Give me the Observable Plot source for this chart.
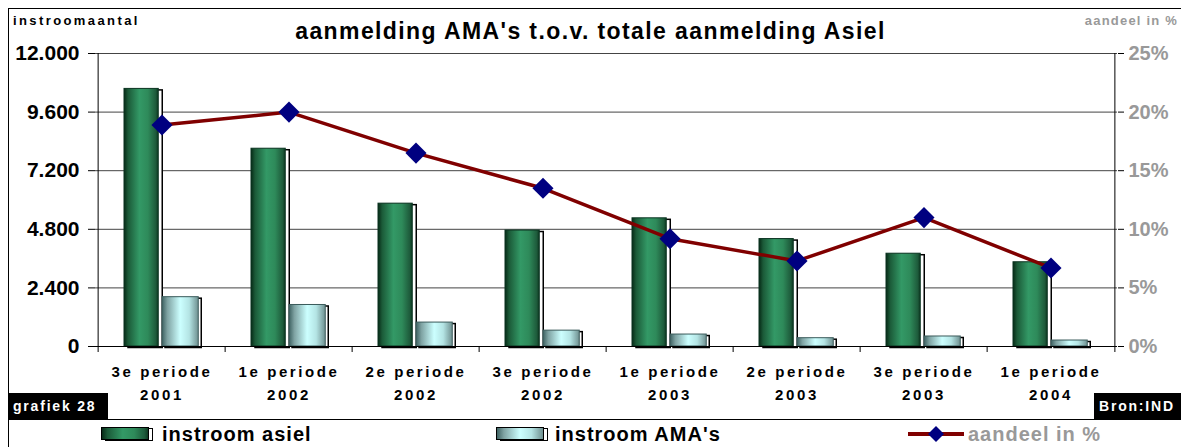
<!DOCTYPE html>
<html>
<head>
<meta charset="utf-8">
<script src="https://cdn.jsdelivr.net/npm/d3@7"></script>
<script src="https://cdn.jsdelivr.net/npm/@observablehq/plot@0.6"></script>
<style>
  html, body { margin: 0; padding: 0; background: #fff; }
  body { font-family: "Liberation Sans", Arial, sans-serif; }
  #wrap { position: relative; width: 1181px; height: 447px; overflow: hidden; background: #fff; }
  #wrap svg.plot { position: absolute; left: 0; top: 0; }
  .abs { position: absolute; white-space: nowrap; }
  #title { left: 0; width: 1181px; top: 18px; text-align: center; font-weight: bold; font-size: 23px; letter-spacing: 1.4px; }
  #ylab { left: 13px; top: 13px; font-weight: bold; font-size: 13px; letter-spacing: 2.4px; }
  #ylab2 { right: 3px; top: 13px; font-weight: bold; font-size: 13px; letter-spacing: 1.2px; color: #999; }
  .blk { background: #000; color: #fff; font-weight: bold; font-size: 14px; letter-spacing: 1.8px; height: 26px; line-height: 26px; }
  #graf { left: 8px; top: 393px; width: 100px; padding-left: 5px; box-sizing: border-box; }
  #bron { left: 1094px; top: 393px; width: 87px; padding-left: 5px; box-sizing: border-box; }
  #topline { left: 8px; top: 8px; width: 1173px; height: 0; border-top: 1px solid #000; }
  #leftline { left: 8px; top: 8px; width: 0; height: 439px; border-left: 1px solid #000; }
  #midline { left: 8px; top: 419px; width: 1173px; height: 0; border-top: 1px solid #000; }
  .sw { position: absolute; height: 13px; width: 48px; top: 427px; box-sizing: border-box; border: 1px solid #000; }
  .swo { position: absolute; height: 13px; width: 48px; top: 428px; box-sizing: border-box; border: 1.5px solid #000; background: #fff; }
  .lg { position: absolute; top: 421px; font-weight: bold; font-size: 20px; letter-spacing: 1px; line-height: 26px; }
  g[aria-label="x-axis tick label"] text { letter-spacing: 2.6px; }
</style>
</head>
<body>
<svg width="0" height="0" style="position:absolute">
  <defs>
    <linearGradient id="gGreen" x1="0" y1="0" x2="1" y2="0">
      <stop offset="0" stop-color="#062a16"/>
      <stop offset="0.12" stop-color="#1b5a38"/>
      <stop offset="0.45" stop-color="#339966"/>
      <stop offset="0.7" stop-color="#2e8a5a"/>
      <stop offset="0.92" stop-color="#1e5c3c"/>
      <stop offset="1" stop-color="#0e3a22"/>
    </linearGradient>
    <linearGradient id="gLight" x1="0" y1="0" x2="1" y2="0">
      <stop offset="0" stop-color="#3e6262"/>
      <stop offset="0.15" stop-color="#7fa3a3"/>
      <stop offset="0.5" stop-color="#ccffff"/>
      <stop offset="0.75" stop-color="#b4e4e4"/>
      <stop offset="1" stop-color="#6f9090"/>
    </linearGradient>
  </defs>
</svg>
<div id="wrap">
  <div class="abs" id="topline"></div>
  <div class="abs" id="leftline"></div>
  <div class="abs" id="midline"></div>
  <div class="abs" id="title">aanmelding AMA's t.o.v. totale aanmelding Asiel</div>
  <div class="abs" id="ylab">instroomaantal</div>
  <div class="abs" id="ylab2">aandeel in %</div>
  <div class="abs blk" id="graf">grafiek 28</div>
  <div class="abs blk" id="bron">Bron:IND</div>

  <div class="swo" style="left:105px"></div>
  <div class="sw" style="left:101px;background:linear-gradient(to right,#062a16,#1b5a38 12%,#339966 45%,#2e8a5a 70%,#1e5c3c 92%,#0e3a22)"></div>
  <div class="lg" style="left:162px">instroom asiel</div>

  <div class="swo" style="left:500px"></div>
  <div class="sw" style="left:496px;background:linear-gradient(to right,#3e6262,#7fa3a3 15%,#ccffff 50%,#b4e4e4 75%,#6f9090)"></div>
  <div class="lg" style="left:555px">instroom AMA's</div>

  <svg class="abs" style="left:905px;top:424px" width="62" height="20">
    <line x1="3" y1="10" x2="59" y2="10" stroke="#800000" stroke-width="4"/>
    <path d="M31,2 L39,10 L31,18 L23,10 Z" fill="#000080"/>
  </svg>
  <div class="lg" style="left:968px;color:#999">aandeel in %</div>
</div>
<script>
const categories = ["3e periode\n2001", "1e periode\n2002", "2e periode\n2002", "3e periode\n2002",
                    "1e periode\n2003", "2e periode\n2003", "3e periode\n2003", "1e periode\n2004"];
const instroomAsiel = [10550, 8100, 5850, 4750, 5250, 4400, 3800, 3450];
const instroomAMA = [2020, 1700, 980, 650, 490, 340, 410, 245];
const aandeelPct = [18.9, 20.0, 16.5, 13.5, 9.2, 7.3, 11.0, 6.7];
const leftTicks = [0, 2400, 4800, 7200, 9600, 12000];
const rightTicks = [0, 5, 10, 15, 20, 25];

const yMax = 12000, pctMax = 25, k = yMax / pctMax;
const data = categories.map((c, i) => ({cat: c, asiel: instroomAsiel[i], ama: instroomAMA[i], pct: aandeelPct[i]}));

const W = 1181, H = 447, mL = 95, mR = 64, mT = 53, mB = 101;
const bw = (W - mL - mR) / categories.length;
const fmt = d => d3.format(",")(d).replace(/,/g, ".");

const chart = Plot.plot({
  width: W, height: H,
  marginLeft: mL, marginRight: mR, marginTop: mT, marginBottom: mB,
  style: {fontFamily: "'Liberation Sans', Arial, sans-serif", background: "transparent", color: "#000", overflow: "visible"},
  x: {domain: categories, padding: 0, label: null},
  y: {domain: [0, yMax], label: null},
  marks: [
    Plot.gridY(leftTicks.slice(1), {stroke: "#444", strokeOpacity: 1}),
    Plot.ruleX([categories[0]], {dx: -bw / 2, stroke: "#000"}),
    Plot.ruleX([categories[categories.length - 1]], {dx: bw / 2, stroke: "#000"}),
    Plot.barY(data, {x: "cat", y: "asiel", insetLeft: 26, insetRight: bw - 61, dx: 4, dy: 1.5, fill: "#fff", stroke: "#000", strokeWidth: 1.5}),
    Plot.barY(data, {x: "cat", y: "asiel", insetLeft: 26, insetRight: bw - 61, fill: "url(#gGreen)", stroke: "#0a3320", strokeWidth: 1}),
    Plot.barY(data, {x: "cat", y: "ama", insetLeft: 64, insetRight: bw - 101, dx: 3, dy: 1.5, fill: "#fff", stroke: "#000", strokeWidth: 1.5}),
    Plot.barY(data, {x: "cat", y: "ama", insetLeft: 64, insetRight: bw - 101, fill: "url(#gLight)", stroke: "#3b5b5b", strokeWidth: 1}),
    Plot.ruleY([0], {stroke: "#000"}),
    Plot.line(data, {x: "cat", y: d => d.pct * k, stroke: "#800000", strokeWidth: 3.5}),
    Plot.dot(data, {x: "cat", y: d => d.pct * k, symbol: "diamond2", r: 9.5, fill: "#000080", stroke: "none"}),
    Plot.axisY({anchor: "left", label: null, ticks: leftTicks, tickSize: 7, tickPadding: 9, tickFormat: fmt, fontSize: 21, fontWeight: "bold"}),
    Plot.axisY({anchor: "right", label: null, ticks: leftTicks, tickSize: 6, tickFormat: () => ""}),
    Plot.axisY({anchor: "right", label: null, ticks: rightTicks.map(p => p * k), tickSize: 0, tickPadding: 11, tickFormat: d => Math.round(d / k) + "%", color: "#999", fontSize: 20, fontWeight: "bold"}),
    Plot.axisX({label: null, ticks: categories, tickSize: 6, dx: -bw / 2, tickFormat: () => ""}),
    Plot.axisX({label: null, ticks: [categories[categories.length - 1]], tickSize: 6, dx: bw / 2, tickFormat: () => ""}),
    Plot.axisX({label: null, ticks: categories, tickSize: 0, tickPadding: 14, fontSize: 15, fontWeight: "bold", lineHeight: 1.55})
  ]
});
chart.classList.add("plot");
document.getElementById("wrap").insertBefore(chart, document.getElementById("wrap").firstChild);
</script>
</body>
</html>
